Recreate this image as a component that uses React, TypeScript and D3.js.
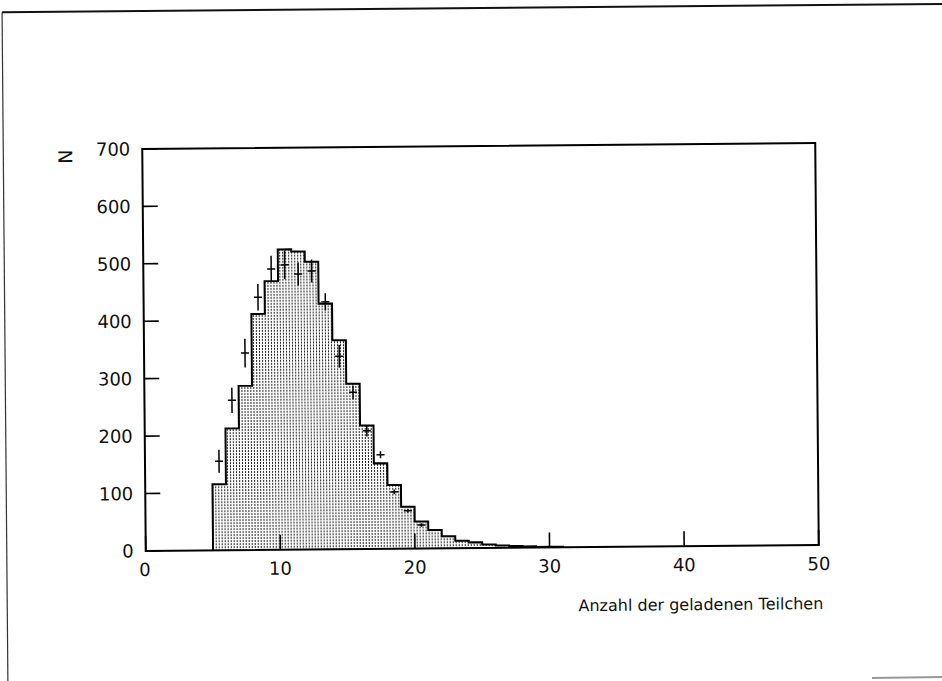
import React from "react";
import * as d3 from "d3";

// Histogram (simulation) — lower bin edges and counts
const binStarts = [5, 6, 7, 8, 9, 10, 11, 12, 13, 14, 15, 16, 17, 18, 19, 20, 21, 22, 23, 24, 25, 26, 27, 28, 29, 30];
const binCounts = [115, 212, 286, 411, 468, 523, 519, 501, 428, 364, 288, 215, 149, 111, 73, 47, 32, 21, 13, 10, 6, 4, 3, 2, 1, 1];

// Measured data points (bin centres) with errors
const dataX = [5.5, 6.5, 7.5, 8.5, 9.5, 10.5, 11.5, 12.5, 13.5, 14.5, 15.5, 16.5, 17.5, 18.5, 19.5, 20.5];
const dataY = [155, 261, 343, 440, 489, 496, 480, 485, 431, 336, 273, 206, 164, 99, 66, 41];
const dataErr = [20, 22, 25, 23, 23, 25, 20, 20, 15, 20, 12, 10, 6, 4, 3, 3];

const xTicks = [0, 10, 20, 30, 40, 50];
const yTicks = [0, 100, 200, 300, 400, 500, 600, 700];

const W = 942;
const H = 681;
const FONT = "'DejaVu Sans', sans-serif";

export default function App() {
  const x = d3.scaleLinear().domain([0, 50]).range([144, 817]);
  const y = d3.scaleLinear().domain([0, 700]).range([548, 146]);

  const stepPts: [number, number][] = [];
  binStarts.forEach((b, i) => {
    stepPts.push([b, binCounts[i]]);
    stepPts.push([b + 1, binCounts[i]]);
  });
  const areaPts: [number, number][] = [[binStarts[0], 0], ...stepPts, [binStarts[binStarts.length - 1] + 1, 0]];

  const line = d3
    .line<[number, number]>()
    .x((d) => x(d[0]))
    .y((d) => y(d[1]));
  const area = d3
    .area<[number, number]>()
    .x((d) => x(d[0]))
    .y0(y(0))
    .y1((d) => y(d[1]));

  const [x0, x1] = x.range();
  const [yb, yt] = y.range();

  return (
    <svg
      width={W}
      height={H}
      style={{ position: "absolute", left: 0, top: 0, background: "#fff" }}
      fontFamily={FONT}
    >
      <defs>
        <pattern id="dots" width={3} height={3} patternUnits="userSpaceOnUse">
          <rect width={3} height={3} fill="#fff" />
          <rect x={1} y={1} width={1} height={2} fill="#222" />
        </pattern>
      </defs>
      <rect width={W} height={H} fill="#fff" />
      <g transform="rotate(-0.5, 481, 347)">
        {/* outer page frame */}
        <line x1={5} y1={8} x2={960} y2={8} stroke="#111" strokeWidth={2} />
        <line x1={5} y1={8} x2={5} y2={700} stroke="#333" strokeWidth={1.2} />

        {/* histogram */}
        <path d={area(areaPts) || ""} fill="url(#dots)" />
        <path d={line(areaPts) || ""} fill="none" stroke="#000" strokeWidth={2} />

        {/* data points with error bars */}
        {dataX.map((cx, i) => (
          <g key={i} stroke="#000" strokeWidth={1.5}>
            <line x1={x(cx)} x2={x(cx)} y1={y(dataY[i] - dataErr[i])} y2={y(dataY[i] + dataErr[i])} />
            <line x1={x(cx - 0.3)} x2={x(cx + 0.3)} y1={y(dataY[i])} y2={y(dataY[i])} />
          </g>
        ))}

        {/* frame */}
        <rect x={x0} y={yt} width={x1 - x0} height={yb - yt} fill="none" stroke="#000" strokeWidth={2} />

        {/* y ticks */}
        {yTicks.map((t) => (
          <g key={"y" + t}>
            <line x1={x0} x2={x0 + 15} y1={y(t)} y2={y(t)} stroke="#000" strokeWidth={1.6} />
            <text x={132} y={y(t)} dy="0.36em" textAnchor="end" fontSize={18} fill="#111">
              {t}
            </text>
          </g>
        ))}

        {/* x ticks */}
        {xTicks.map((t) => (
          <g key={"x" + t}>
            <line x1={x(t)} x2={x(t)} y1={yb} y2={yb - 15} stroke="#000" strokeWidth={1.6} />
            <text x={x(t) + (t === 0 ? -1 : 0)} y={yb + 25} textAnchor="middle" fontSize={18} fill="#111">
              {t}
            </text>
          </g>
        ))}

        {/* axis labels */}
        <text transform="translate(67,153) rotate(-90)" dy="0.36em" textAnchor="middle" fontSize={19} fill="#111">
          N
        </text>
        <text x={821} y={612} textAnchor="end" fontSize={16} fill="#111">
          Anzahl der geladenen Teilchen
        </text>
      </g>
      {/* bottom-right scan edge */}
      <line x1={872} y1={678} x2={942} y2={677} stroke="#999" strokeWidth={2} />
    </svg>
  );
}
